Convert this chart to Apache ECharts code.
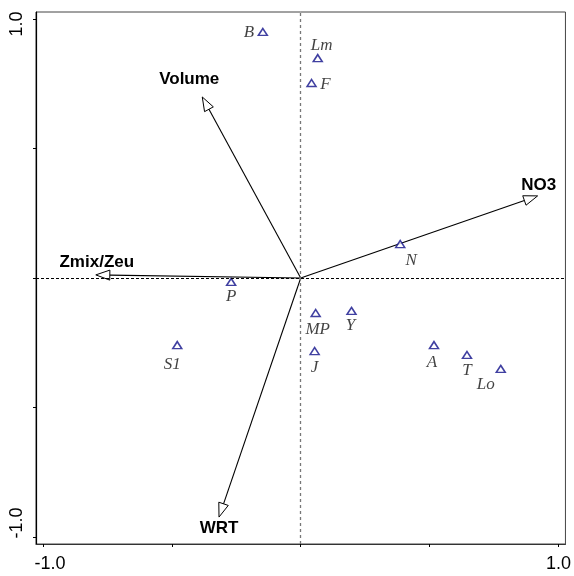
<!DOCTYPE html>
<html>
<head>
<meta charset="utf-8">
<script src="https://cdn.jsdelivr.net/npm/echarts@6/dist/echarts.min.js"></script>
<style>html,body{margin:0;padding:0;background:#fff;}#c{width:574px;height:576px;}</style>
</head>
<body>
<div id="c"></div>
<script>
// ---- data ----
const siteNames = ['B','Lm','F','N','P','S1','MP','Y','J','A','T','Lo'];
const siteX = [-0.147, 0.066, 0.042, 0.386, -0.270, -0.479, 0.058, 0.197, 0.054, 0.517, 0.645, 0.776];
const siteY = [0.950, 0.849, 0.753, 0.131, -0.015, -0.259, -0.135, -0.127, -0.282, -0.259, -0.297, -0.351];

const envNames = ['Volume','NO3','Zmix/Zeu','WRT'];
const envX = [-0.382, 0.919, -0.795, -0.317];
const envY = [0.699, 0.317, 0.012, -0.923];

const tickValues = [-1, -0.5, 0, 0.5, 1];
const tickLabels = [-1, 1];

// ---- styles (label offsets in px) ----
const siteLabelOffset = {
  B:[-14,1], Lm:[4,-13], F:[14,2], N:[11,16], P:[0,15], S1:[-5,19],
  MP:[2,17], Y:[-1,15], J:[0,16], A:[-2,17], T:[0,16], Lo:[-15,16]
};
const envLabelOffset = {
  'Volume':[-13,-18], 'NO3':[1,-11], 'Zmix/Zeu':[1,-13], 'WRT':[0,11]
};

const R = 1.027;
const chart = echarts.init(document.getElementById('c'));

const siteData = siteNames.map((n,i)=>({
  value:[siteX[i], siteY[i]], name:n,
  label:{show:true, position:'inside', offset:siteLabelOffset[n], formatter:n}
}));
const envData = envNames.map((n,i)=>({value:[envX[i], envY[i]], name:n}));

function fmt(v){
  if (v === -1) return '{a|-1.0}';
  if (v === 1) return '{b|1.0}';
  return '';
}
const labelFont = {fontFamily:'Liberation Sans, Arial, sans-serif', fontSize:18, color:'#000'};

chart.setOption({
  animation:false,
  grid:{left:36, top:12, width:532, height:532, show:true, borderColor:'#444', borderWidth:1, backgroundColor:'#fff'},
  xAxis:{
    type:'value', min:-R, max:R,
    axisLine:{show:true, onZero:false, lineStyle:{color:'#333', width:1.2}},
    axisTick:{show:true, customValues:tickValues, length:3, lineStyle:{color:'#000'}},
    axisLabel:{show:true, customValues:tickLabels, margin:11, formatter:fmt,
      rich:{a:Object.assign({padding:[0,0,0,14]}, labelFont), b:Object.assign({}, labelFont)}},
    splitLine:{show:false}
  },
  yAxis:{
    type:'value', min:-R, max:R,
    axisLine:{show:true, onZero:false, lineStyle:{color:'#000', width:1.2}},
    axisTick:{show:true, customValues:tickValues, length:3, lineStyle:{color:'#000'}},
    axisLabel:{show:true, customValues:tickLabels, rotate:90, margin:10, formatter:fmt,
      rich:{a:Object.assign({padding:[0,0,0,28]}, labelFont), b:Object.assign({padding:[0,10,0,0]}, labelFont)}},
    splitLine:{show:false}
  },
  series:[
    {
      type:'line', data:[], silent:true,
      markLine:{
        silent:true, symbol:'none', label:{show:false}, animation:false,
        data:[
          {xAxis:0, lineStyle:{color:'#777', type:[3,3], width:1.3}},
          {yAxis:0, lineStyle:{color:'#000', type:[3,2], width:1}}
        ]
      }
    },
    {
      type:'custom', data:envData, z:3,
      renderItem:function(params, api){
        const o = api.coord([0,0]);
        const t = api.coord([api.value(0), api.value(1)]);
        const dx = t[0]-o[0], dy = t[1]-o[1];
        const L = Math.sqrt(dx*dx+dy*dy);
        const ux = dx/L, uy = dy/L, px = -uy, py = ux;
        const hl = 14, hw = 5;
        const bx = t[0]-ux*hl, by = t[1]-uy*hl;
        const name = envNames[params.dataIndex];
        const off = envLabelOffset[name];
        return {type:'group', children:[
          {type:'line', shape:{x1:o[0], y1:o[1], x2:bx, y2:by}, style:{stroke:'#000', lineWidth:1.1}},
          {type:'polygon', shape:{points:[[t[0],t[1]],[bx+px*hw,by+py*hw],[bx-px*hw,by-py*hw]]},
            style:{fill:'#fff', stroke:'#000', lineWidth:1}},
          {type:'text', x:t[0]+off[0], y:t[1]+off[1],
            style:{text:name, fill:'#000', font:'bold 17px "Liberation Sans", Arial, sans-serif',
              align:'center', verticalAlign:'middle'}}
        ]};
      }
    },
    {
      type:'scatter', data:siteData, z:4,
      symbol:'triangle', symbolSize:[9,7],
      itemStyle:{color:'#fff', borderColor:'#10108a', borderWidth:1.5},
      label:{show:true, color:'#111', fontFamily:'Liberation Serif, Times New Roman, serif',
        fontStyle:'italic', fontSize:17}
    }
  ]
});
</script>
</body>
</html>
